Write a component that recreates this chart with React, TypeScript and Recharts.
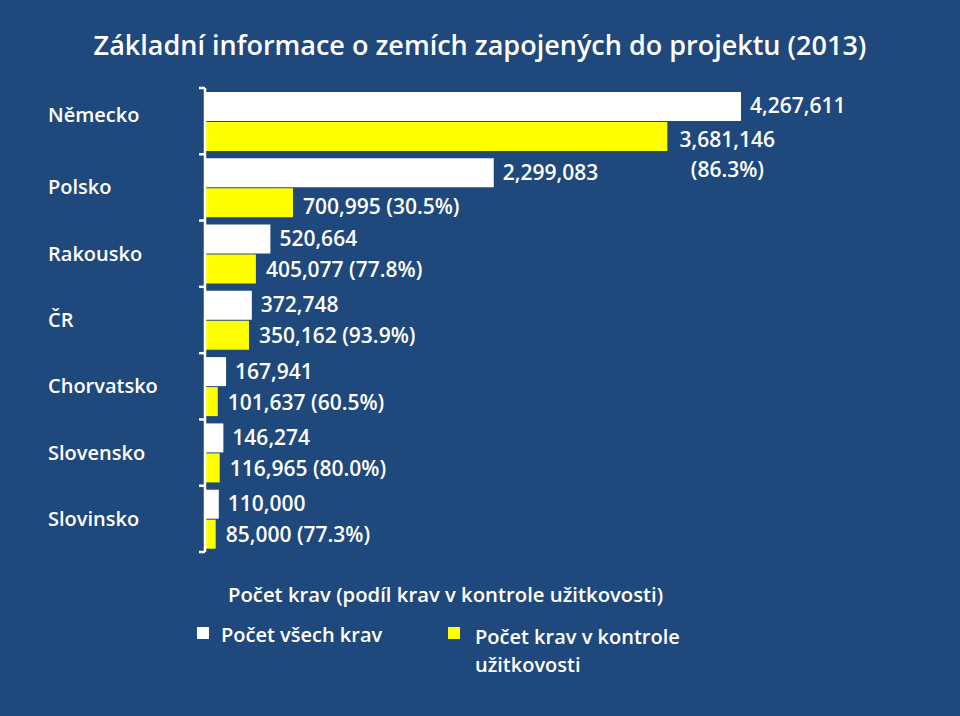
import { BarChart, Bar, XAxis, YAxis, LabelList } from "recharts";

const countries = ["Německo", "Polsko", "Rakousko", "ČR", "Chorvatsko", "Slovensko", "Slovinsko"];
const allCows = [4267611, 2299083, 520664, 372748, 167941, 146274, 110000];
const controlledCows = [3681146, 700995, 405077, 350162, 101637, 116965, 85000];

const BG = "#1f487c";
const YELLOW = "#ffff00";
const FONT = "'Open Sans', sans-serif";

const data = countries.map((name, i) => ({
  name,
  all: allCows[i],
  controlled: controlledCows[i],
}));

const fmt = (v: number) => v.toLocaleString("en-US");
const pct = (i: number) => ((controlledCows[i] / allCows[i]) * 100).toFixed(1) + "%";

const CountryTick = (props: any) => {
  const { y, payload, index, visibleTicksCount } = props;
  const band = 464 / countries.length;
  const top = y - band / 2;
  return (
    <g>
      <line x1={199} x2={205} y1={top} y2={top} stroke="#fff" strokeWidth={2.5} />
      {index === visibleTicksCount - 1 && (
        <line x1={199} x2={205} y1={top + band} y2={top + band} stroke="#fff" strokeWidth={2.5} />
      )}
      <text x={48} y={y} dy={index === 0 ? 1 : 7} fill="#fff" fontFamily={FONT} fontWeight={600} fontSize={20} textAnchor="start">
        {payload.value}
      </text>
    </g>
  );
};

const AllLabel = (props: any) => {
  const { x, y, width, height, value } = props;
  return (
    <text x={x + width + 9} y={y + height / 2} dy={7} fill="#fff" fontFamily={FONT} fontWeight={600} fontSize={21}>
      {fmt(value)}
    </text>
  );
};

const ControlledLabel = (props: any) => {
  const { x, y, width, height, value, index } = props;
  if (index === 0) {
    const cx = x + width + 60;
    return (
      <text x={cx} y={y + height / 2} fill="#fff" fontFamily={FONT} fontWeight={600} fontSize={21} textAnchor="middle">
        <tspan x={cx} dy={11}>{fmt(value)}</tspan>
        <tspan x={cx} dy={30}>({pct(index)})</tspan>
      </text>
    );
  }
  return (
    <text x={x + width + 10} y={y + height / 2} dy={index === 1 ? 11 : 8} fill="#fff" fontFamily={FONT} fontWeight={600} fontSize={21}>
      {fmt(value)} ({pct(index)})
    </text>
  );
};

const LegendBox = () => (
  <div style={{ position: "absolute", left: 0, top: 576, width: 960, height: 120, fontFamily: FONT, fontWeight: 600, fontSize: 20, color: "#fff" }}>
    <div style={{ position: "absolute", left: 228, top: 4, whiteSpace: "nowrap", fontSize: 20.3 }}>
      Počet krav (podíl krav v kontrole užitkovosti)
    </div>
    <div style={{ position: "absolute", left: 197, top: 51, width: 12, height: 12, background: "#fff" }} />
    <div style={{ position: "absolute", left: 221, top: 45, whiteSpace: "nowrap" }}>Počet všech krav</div>
    <div style={{ position: "absolute", left: 448, top: 51, width: 12, height: 12, background: YELLOW }} />
    <div style={{ position: "absolute", left: 475, top: 47, lineHeight: "28px", textAlign: "left" }}>
      Počet krav v kontrole
      <br />
      užitkovosti
    </div>
  </div>
);

export default function App() {
  return (
    <div style={{ position: "relative", width: 960, height: 716, background: BG }}>
      <style>{"body{margin:0}"}</style>
      <div
        style={{
          position: "absolute",
          top: 26,
          left: 0,
          width: 960,
          textAlign: "center",
          fontFamily: FONT,
          fontWeight: 600,
          fontSize: 27,
          color: "#fff",
        }}
      >
        Základní informace o zemích zapojených do projektu (2013)
      </div>
      <BarChart
        width={960}
        height={716}
        data={data}
        layout="vertical"
        margin={{ top: 88, right: 127, bottom: 164, left: 0 }}
        barCategoryGap="6%"
        barGap={1}
      >
        <XAxis type="number" domain={[0, 5000000]} hide />
        <YAxis
          type="category"
          dataKey="name"
          width={205}
          axisLine={{ stroke: "#fff", strokeWidth: 2.5 }}
          tickLine={false}
          tick={<CountryTick />}
          interval={0}
        />
        <Bar dataKey="all" fill="#ffffff" isAnimationActive={false}>
          <LabelList dataKey="all" content={<AllLabel />} />
        </Bar>
        <Bar dataKey="controlled" fill={YELLOW} isAnimationActive={false}>
          <LabelList dataKey="controlled" content={<ControlledLabel />} />
        </Bar>
      </BarChart>
      <LegendBox />
    </div>
  );
}
